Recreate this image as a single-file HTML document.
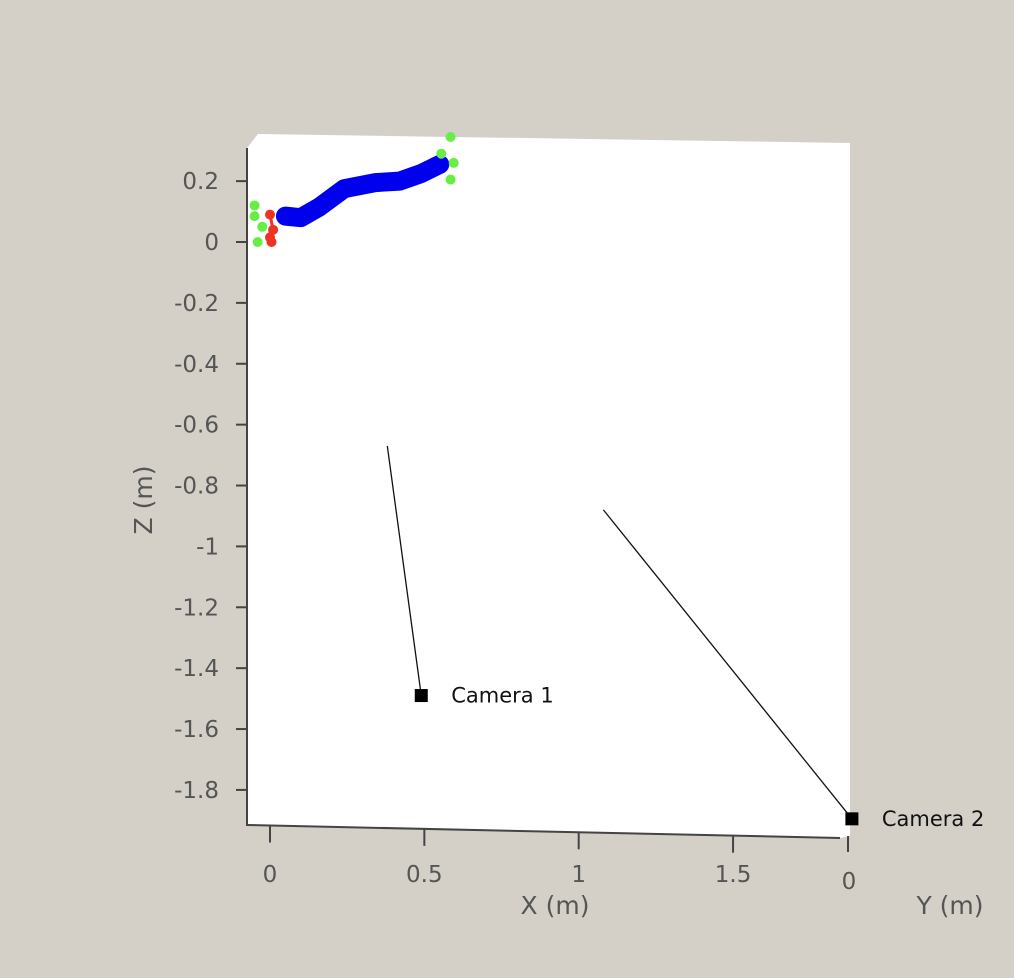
<!DOCTYPE html>
<html><head><meta charset="utf-8"><style>
body{margin:0;background:#d4d0c8;}
svg{display:block;font-family:"DejaVu Sans","Liberation Sans",sans-serif;}
.tk{fill:#555;font-size:23px;}
</style></head><body>
<svg id="chart" width="1014" height="978" viewBox="0 0 1014 978">
<rect width="1014" height="978" fill="#d4d0c8"/>
<polygon points="247,148 258,134 850,143 850,836 840,838 247,825" fill="#fff"/>
<g id="axes"></g>
<g id="marks"></g>
<text transform="translate(152,500) rotate(-90)" text-anchor="middle" class="tk" style="font-size:25px">Z (m)</text>
<text x="555" y="914" text-anchor="middle" class="tk" style="font-size:25px">X (m)</text>
<text x="950" y="914" text-anchor="middle" class="tk" style="font-size:25px">Y (m)</text>
<text x="849" y="889" text-anchor="middle" class="tk">0</text>
<line x1="848" y1="836" x2="848" y2="852" stroke="#444" stroke-width="2"/>
</svg>
<script>
const xTicks=[0,0.5,1,1.5];
const xTickLabels=["0","0.5","1","1.5"];
const zTicks=[0.2,0,-0.2,-0.4,-0.6,-0.8,-1,-1.2,-1.4,-1.6,-1.8];
const zTickLabels=["0.2","0","-0.2","-0.4","-0.6","-0.8","-1","-1.2","-1.4","-1.6","-1.8"];
const trajX=[0.05,0.10,0.16,0.24,0.34,0.42,0.49,0.55];
const trajZ=[0.085,0.08,0.115,0.175,0.195,0.20,0.225,0.255];
const greenX=[-0.05,-0.05,-0.025,-0.04,0.585,0.555,0.595,0.585];
const greenZ=[0.12,0.085,0.05,0.0,0.345,0.29,0.26,0.205];
const redX=[0,0.01,0.005,0];
const redZ=[0.09,0.04,0.0,0.015];
const camNames=["Camera 1","Camera 2"];
const camX=[0.49,1.885];
const camZ=[-1.49,-1.895];
const camDirX=[0.38,1.08];
const camDirZ=[-0.67,-0.88];
const sx=v=>270+v*308.7;
const sz=v=>242-v*304.4;
const NS="http://www.w3.org/2000/svg";
function mk(t,a,p){const e=document.createElementNS(NS,t);for(const k in a)e.setAttribute(k,a[k]);p.appendChild(e);return e;}
const ax=document.getElementById('axes'),mg=document.getElementById('marks');
let l=mk('line',{x1:247,y1:148,x2:247,y2:826,stroke:'#444','stroke-width':2},ax);


l=mk('line',{x1:247,y1:825,x2:840,y2:838,stroke:'#444','stroke-width':2},ax);


zTicks.forEach((v,i)=>{const y=sz(v);
 const t=mk('line',{x1:236,y1:y,x2:247,y2:y,stroke:'#444','stroke-width':2},ax);
 
 
 const tx=mk('text',{x:219,y:y+8,'text-anchor':'end',class:'tk'},ax);tx.textContent=zTickLabels[i];
 
 
});
xTicks.forEach((v,i)=>{const x=sx(v);const yb=825+(x-247)*13/593;
 const t=mk('line',{x1:x,y1:yb,x2:x,y2:yb+17,stroke:'#444','stroke-width':2},ax);
 
 
 const tx=mk('text',{x:x,y:882,'text-anchor':'middle',class:'tk'},ax);tx.textContent=xTickLabels[i];
 
 
});
const pts=trajX.map((v,i)=>sx(v)+','+sz(trajZ[i])).join(' ');
const tr=mk('polyline',{points:pts,fill:'none',stroke:'#0000ee','stroke-width':19,'stroke-linejoin':'round','stroke-linecap':'round'},mg);


const rp=mk('polyline',{points:redX.map((v,i)=>sx(v)+','+sz(redZ[i])).join(' '),fill:'none',stroke:'#ee3322','stroke-width':3},mg);


redX.forEach((v,i)=>{const c=mk('circle',{cx:sx(v),cy:sz(redZ[i]),r:5,fill:'#ee3322'},mg);
 
 });
greenX.forEach((v,i)=>{const c=mk('circle',{cx:sx(v),cy:sz(greenZ[i]),r:5,fill:'#66ee44'},mg);
 
 });
camX.forEach((v,i)=>{const x=sx(v),y=sz(camZ[i]);
 const ln=mk('line',{x1:x,y1:y,x2:sx(camDirX[i]),y2:sz(camDirZ[i]),stroke:'#111','stroke-width':1.3},mg);
 
 
 const r=mk('rect',{x:x-6.5,y:y-6.5,width:13,height:13,fill:'#000'},mg);
 
 
 const t=mk('text',{x:x+30,y:y+7,fill:'#111','font-size':'21px'},mg);t.textContent=camNames[i];
 
 
});
</script>
</body></html>
